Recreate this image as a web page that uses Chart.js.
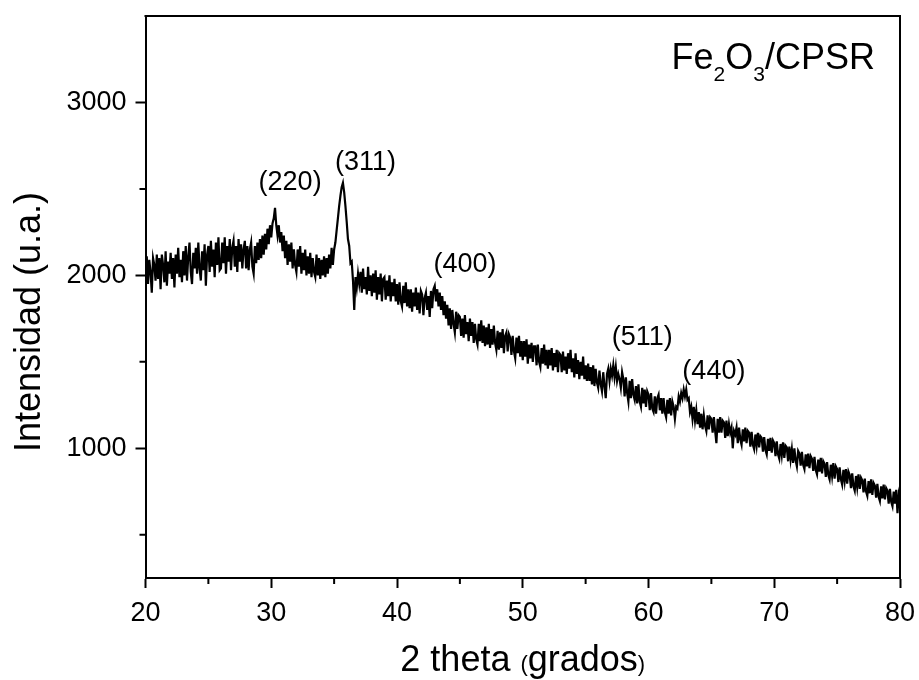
<!DOCTYPE html>
<html lang="es">
<head>
<meta charset="UTF-8">
<title>Fe2O3/CPSR - DRX</title>
<style>
  body { margin: 0; background: #fff; }
  #wrap { width: 919px; height: 680px; }
</style>
</head>
<body>
<div id="wrap"><canvas id="xrd" width="919" height="680"></canvas></div>
<script src="https://cdn.jsdelivr.net/npm/chart.js"></script>
<script>
// 2 theta sampling grid (20.0 .. 80.0, step 0.1)
const angleStart = 20;
const angleStep = 0.1;

// intensity, one row per degree
const intensity = [
  1990, 2110, 1950, 2090, 2020, 1900, 2100, 2060, 1970, 2120,
  1980, 2100, 1920, 2120, 2060, 1960, 2140, 1940, 2080, 2010,
  2130, 1980, 2100, 1930, 2120, 2010, 2160, 1990, 2090, 1960,
  2140, 2000, 2170, 1970, 2110, 2190, 2020, 1950, 2130, 2040,
  2160, 2010, 2190, 2040, 1970, 2140, 2030, 2180, 1940, 2120,
  2170, 2020, 2200, 2050, 2150, 1990, 2190, 2060, 2220, 2030,
  2040, 2190, 2070, 2220, 2010, 2170, 2080, 2210, 2030, 2160,
  2200, 2050, 2170, 2020, 2210, 2080, 2180, 2040, 2150, 2200,
  2040, 2170, 2030, 2150, 2190, 2050, 2010, 2170, 2070, 2190,
  2090, 2210, 2100, 2230, 2120, 2240, 2150, 2270, 2180, 2290,
  2220, 2300, 2330, 2390, 2290, 2230, 2290, 2190, 2250, 2140,
  2230, 2100, 2200, 2060, 2180, 2080, 2190, 2040, 2150, 2060,
  2020, 2150, 2050, 2170, 2010, 2130, 2030, 2150, 2000, 2110,
  2010, 2130, 1990, 2100, 2020, 1990, 2120, 2000, 2100, 1980,
  2090, 2000, 2110, 1990, 2100, 2010, 2120, 2040, 2160, 2060,
  2150, 2190, 2260, 2330, 2400, 2460, 2510, 2535, 2480, 2400,
  2310, 2210, 2170, 2070, 2080, 1970, 1800, 1990, 1930, 2010,
  1950, 2020, 1900, 2040, 1920, 1990, 1890, 2050, 1910, 2000,
  1880, 2010, 1900, 2030, 1860, 1990, 1890, 2010, 1850, 1980,
  1990, 1860, 1970, 1880, 2000, 1850, 1960, 1880, 1980, 1850,
  1950, 1830, 1960, 1850, 1820, 1940, 1840, 1960, 1820, 1920,
  1810, 1920, 1790, 1900, 1820, 1930, 1800, 1900, 1780, 1910,
  1890, 1770, 1870, 1900, 1800, 1880, 1760, 1910, 1810, 1920,
  1940, 1850, 1920, 1820, 1900, 1800, 1880, 1770, 1850, 1750,
  1830, 1710, 1810, 1690, 1800, 1720, 1670, 1790, 1690, 1770,
  1760, 1650, 1750, 1640, 1770, 1660, 1730, 1620, 1750, 1650,
  1730, 1610, 1720, 1630, 1600, 1720, 1620, 1740, 1610, 1710,
  1590, 1700, 1600, 1720, 1580, 1690, 1600, 1710, 1610, 1570,
  1680, 1570, 1670, 1580, 1690, 1550, 1650, 1670, 1560, 1660,
  1640, 1540, 1650, 1560, 1520, 1640, 1550, 1650, 1530, 1620,
  1510, 1620, 1530, 1630, 1490, 1600, 1520, 1610, 1500, 1590,
  1590, 1480, 1600, 1500, 1470, 1580, 1490, 1600, 1480, 1570,
  1460, 1570, 1480, 1580, 1450, 1550, 1470, 1570, 1440, 1550,
  1540, 1440, 1560, 1450, 1530, 1430, 1550, 1460, 1570, 1440,
  1520, 1410, 1550, 1430, 1510, 1400, 1500, 1420, 1530, 1400,
  1480, 1390, 1490, 1390, 1470, 1370, 1480, 1360, 1460, 1380,
  1350, 1450, 1370, 1330, 1440, 1360, 1290, 1430, 1460, 1390,
  1460, 1420, 1480, 1410, 1470, 1390, 1430, 1400, 1350, 1440,
  1400, 1300, 1410, 1320, 1270, 1390, 1290, 1400, 1310, 1280,
  1360, 1260, 1370, 1270, 1240, 1350, 1260, 1340, 1240, 1330,
  1310, 1220, 1320, 1230, 1210, 1300, 1200, 1290, 1310, 1220,
  1290, 1200, 1290, 1210, 1180, 1280, 1200, 1290, 1190, 1270,
  1240, 1170, 1240, 1230, 1300, 1270, 1320, 1290, 1340, 1300,
  1340, 1280, 1290, 1210, 1240, 1170, 1240, 1160, 1220, 1140,
  1210, 1120, 1200, 1110, 1190, 1130, 1100, 1190, 1110, 1180,
  1170, 1090, 1180, 1100, 1030, 1170, 1090, 1180, 1090, 1160,
  1150, 1060, 1160, 1070, 1140, 1090, 1120, 1000, 1100, 1080,
  1120, 1030, 1120, 1050, 1020, 1110, 1040, 1120, 1030, 1100,
  1090, 1010, 1095, 1020, 995, 1080, 1015, 1090, 1005, 1070,
  1060, 980, 1065, 990, 965, 1055, 985, 1060, 975, 1045,
  1030, 955, 1040, 965, 940, 1025, 960, 1035, 945, 1015,
  1005, 925, 1010, 935, 995, 915, 1000, 930, 895, 985,
  970, 900, 980, 905, 880, 965, 895, 970, 885, 955,
  940, 870, 950, 875, 850, 935, 865, 945, 855, 925,
  910, 835, 920, 845, 820, 905, 840, 915, 825, 895,
  880, 805, 890, 820, 790, 875, 810, 880, 795, 865,
  845, 770, 855, 780, 755, 840, 775, 850, 765, 830,
  815, 745, 825, 750, 725, 810, 740, 820, 730, 800,
  785, 715, 795, 720, 695, 780, 710, 790, 705, 770,
  755, 680, 765, 690, 665, 750, 680, 760, 625, 730,
  690
];

const xTicks = [20, 30, 40, 50, 60, 70, 80];
const xMinorTicks = [25, 35, 45, 55, 65, 75];
const yTicks = [1000, 2000, 3000];
const yMinorTicks = [500, 1500, 2500];
const peakNames = ['(220)', '(311)', '(400)', '(511)', '(440)'];

const points = intensity.map((v, i) => ({ x: +(angleStart + i * angleStep).toFixed(1), y: v }));

const FONT = '"Liberation Sans", Arial, sans-serif';

// box, minor ticks, titles and peak labels
const decor = {
    id: 'decor',
    afterDraw(chart) {
        const { ctx, chartArea: a, scales: { x, y } } = chart;
        ctx.save();
        ctx.strokeStyle = '#000';
        ctx.lineWidth = 2;
        ctx.lineCap = 'square';
        ctx.beginPath();
        ctx.moveTo(a.left, a.top);
        ctx.lineTo(a.right, a.top);
        ctx.lineTo(a.right, a.bottom);
        ctx.stroke();

        ctx.lineCap = 'butt';
        ctx.beginPath();
        xMinorTicks.forEach(v => {
            const px = x.getPixelForValue(v);
            ctx.moveTo(px, a.bottom);
            ctx.lineTo(px, a.bottom + 6);
        });
        yMinorTicks.forEach(v => {
            const py = y.getPixelForValue(v);
            ctx.moveTo(a.left, py);
            ctx.lineTo(a.left - 6, py);
        });
        ctx.stroke();

        ctx.fillStyle = '#000';

        // peak labels, anchored in data coords
        const anchors = [[31.5, 2537], [37.5, 2653], [45.4, 2062], [59.5, 1640], [65.2, 1445]];
        ctx.font = '27px ' + FONT;
        ctx.textAlign = 'center';
        ctx.textBaseline = 'middle';
        peakNames.forEach((t, i) => {
            ctx.fillText(t, x.getPixelForValue(anchors[i][0]), y.getPixelForValue(anchors[i][1]));
        });

        // sample name with subscripts
        ctx.textAlign = 'left';
        ctx.textBaseline = 'alphabetic';
        const parts = [['Fe', 36, 0], ['2', 21, 12], ['O', 36, 0], ['3', 21, 12], ['/CPSR', 36, 0]];
        let w = 0;
        parts.forEach(p => { ctx.font = p[1] + 'px ' + FONT; w += ctx.measureText(p[0]).width; });
        let cx = 875 - w;
        parts.forEach(p => {
            ctx.font = p[1] + 'px ' + FONT;
            ctx.fillText(p[0], cx, 69 + p[2]);
            cx += ctx.measureText(p[0]).width;
        });

        // x title, small brackets
        const xt = [['2 theta ', 36], ['(', 22], ['grados', 36], [')', 22]];
        w = 0;
        xt.forEach(p => { ctx.font = p[1] + 'px ' + FONT; w += ctx.measureText(p[0]).width; });
        cx = (a.left + a.right) / 2 - w / 2;
        xt.forEach(p => {
            ctx.font = p[1] + 'px ' + FONT;
            ctx.fillText(p[0], cx, 671);
            cx += ctx.measureText(p[0]).width;
        });

        // y title
        ctx.translate(30, 322);
        ctx.rotate(-Math.PI / 2);
        ctx.font = '36px ' + FONT;
        ctx.textAlign = 'center';
        ctx.textBaseline = 'middle';
        ctx.fillText('Intensidad (u.a.)', 0, 0);
        ctx.restore();
    }
};

new Chart(document.getElementById('xrd'), {
    type: 'line',
    data: {
        datasets: [{
            data: points,
            borderColor: '#000',
            borderWidth: 2.2,
            pointRadius: 0,
            tension: 0,
            fill: false
        }]
    },
    options: {
        responsive: false,
        animation: false,
        layout: { padding: { left: 0, top: 16, right: 19, bottom: 0 } },
        plugins: { legend: { display: false }, tooltip: { enabled: false } },
        scales: {
            x: {
                type: 'linear',
                min: 20,
                max: 80,
                afterBuildTicks: s => { s.ticks = xTicks.map(v => ({ value: v })); },
                afterFit: s => { s.height = 102; s.paddingLeft = 0; s.paddingRight = 0; },
                grid: { drawOnChartArea: false, tickLength: 10, tickWidth: 2, tickColor: '#000' },
                border: { display: true, color: '#000', width: 2 },
                ticks: { color: '#000', font: { family: FONT, size: 27 }, padding: 9, maxRotation: 0, callback: v => String(v) }
            },
            y: {
                min: 250,
                max: 3500,
                afterBuildTicks: s => { s.ticks = yTicks.map(v => ({ value: v })); },
                afterFit: s => { s.width = 145.5; s.paddingTop = 0; s.paddingBottom = 0; },
                grid: { drawOnChartArea: false, tickLength: 10, tickWidth: 2, tickColor: '#000' },
                border: { display: true, color: '#000', width: 2 },
                ticks: { color: '#000', font: { family: FONT, size: 27 }, padding: 9, callback: v => String(v) }
            }
        }
    },
    plugins: [decor]
});
</script>
</body>
</html>
